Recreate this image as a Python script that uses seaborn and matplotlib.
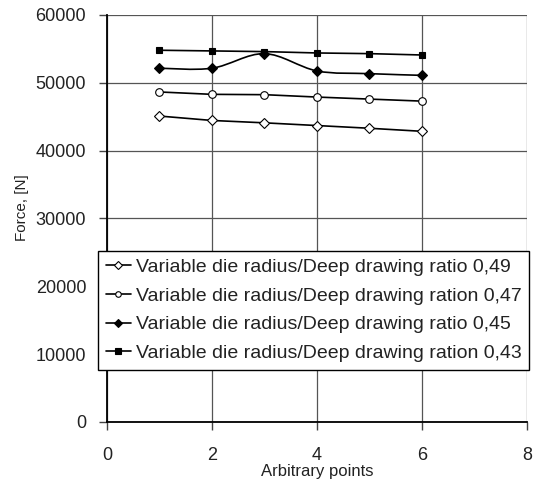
import numpy as np
import pandas as pd
import matplotlib
matplotlib.use("Agg")
import matplotlib.pyplot as plt
from matplotlib.path import Path
from matplotlib.patches import PathPatch
from matplotlib.lines import Line2D
import seaborn as sns

# data
points = [1, 2, 3, 4, 5, 6]
ratio_049 = [45100, 44450, 44100, 43700, 43300, 42850]
ratio_047 = [48650, 48300, 48250, 47900, 47600, 47300]
ratio_045 = [52150, 52150, 54300, 51750, 51350, 51100]
ratio_043 = [54800, 54700, 54600, 54400, 54300, 54100]

labels = [
    "Variable die radius/Deep drawing ratio 0,49",
    "Variable die radius/Deep drawing ration 0,47",
    "Variable die radius/Deep drawing ratio 0,45",
    "Variable die radius/Deep drawing ration 0,43",
]
xticks = [0, 2, 4, 6, 8]
yticks = [0, 10000, 20000, 30000, 40000, 50000, 60000]

sns.set_theme(style="white")
plt.rcParams['font.family'] = ['Liberation Sans', 'DejaVu Sans']

fig = plt.figure(figsize=(5.36, 4.83), dpi=100)
ax = fig.add_axes([0.1996, 0.1263, 0.7836, 0.8427])

df = pd.DataFrame({"x": points, "a": ratio_049, "b": ratio_047, "c": ratio_045, "d": ratio_043})

# column, marker, face colour, marker size, straight line?
styles = [
    ("a", "D", "white", 5.5, True),
    ("b", "o", "white", 5.5, True),
    ("c", "D", "black", 5.5, False),
    ("d", "s", "black", 5, True),
]
handles = []
for (col, mk, fc, ms, straight), lab in zip(styles, labels):
    sns.lineplot(data=df, x="x", y=col, ax=ax, color="black",
                 linewidth=1.2 if straight else 0, marker=mk, markersize=ms,
                 markerfacecolor=fc, markeredgecolor="black", markeredgewidth=0.8,
                 zorder=3)
    handles.append(Line2D([], [], color="black", lw=1.2, marker=mk, markersize=4,
                          markerfacecolor=fc, markeredgecolor="black", markeredgewidth=0.8))

# smoothed line for the 0,45 series (Catmull-Rom as bezier)
xs = np.array(points, dtype=float)
ys = np.array(ratio_045, dtype=float)
verts = [(xs[0], ys[0])]
codes = [Path.MOVETO]
n = len(xs)
for i in range(n - 1):
    p0 = np.array([xs[max(i - 1, 0)], ys[max(i - 1, 0)]])
    p1 = np.array([xs[i], ys[i]])
    p2 = np.array([xs[i + 1], ys[i + 1]])
    p3 = np.array([xs[min(i + 2, n - 1)], ys[min(i + 2, n - 1)]])
    c1 = p1 + (p2 - p0) / 6
    c2 = p2 - (p3 - p1) / 6
    verts += [tuple(c1), tuple(c2), tuple(p2)]
    codes += [Path.CURVE4] * 3
ax.add_patch(PathPatch(Path(verts, codes), facecolor="none", edgecolor="black", lw=1.2, zorder=2))

ax.set_xlim(0, 8)
ax.set_ylim(0, 60000)
ax.set_xticks(xticks)
ax.set_yticks(yticks)
ax.grid(True, color="#555555", linewidth=0.9)
ax.set_axisbelow(True)
for s in ["top", "right"]:
    ax.spines[s].set_visible(False)
for s in ["left", "bottom"]:
    ax.spines[s].set_color("black")
    ax.spines[s].set_linewidth(1.3)
ax.tick_params(axis="both", direction="out", length=6, width=1, color="#444444",
               labelsize=13, labelcolor="#222222", left=True, bottom=True)
ax.tick_params(axis="y", pad=9)
ax.tick_params(axis="x", pad=12)
ax.set_xlabel("Arbitrary points", fontsize=12, labelpad=0, color="#222222")
ax.set_ylabel("Force, [N]", fontsize=11, color="#222222")
ax.yaxis.set_label_coords(-0.186, 0.526)

leg = ax.legend(handles, labels, loc="upper left", bbox_to_anchor=(-0.0214, 0.421),
                fontsize=14, frameon=True, fancybox=False, shadow=False,
                handlelength=1.3, handletextpad=0.25, labelspacing=0.57,
                borderpad=0.4, borderaxespad=0)
leg.get_frame().set_edgecolor("black")
leg.get_frame().set_linewidth(1)
leg.get_frame().set_facecolor("white")
leg.get_frame().set_alpha(1)
for t in leg.get_texts():
    t.set_color("#222222")

fig.savefig("out.png", dpi=100)
